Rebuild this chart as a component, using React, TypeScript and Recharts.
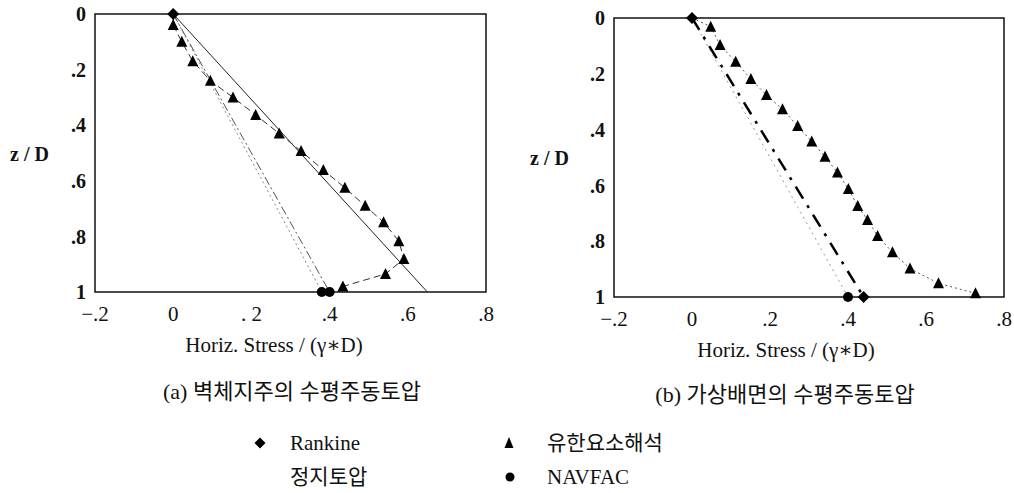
import React from "react";
import {
  LineChart,
  Line,
  XAxis,
  YAxis,
  ReferenceArea,
} from "recharts";

// panel (a) 벽체지주
const rankineA = [
  { x: 0, z: 0 },
  { x: 0.65, z: 1 },
];
const restA = [
  { x: 0, z: 0 },
  { x: 0.38, z: 1 },
];
const navfacA = [
  { x: 0, z: 0 },
  { x: 0.4, z: 1 },
];
const femA = [
  { x: 0.0, z: 0.04 },
  { x: 0.022, z: 0.1 },
  { x: 0.05, z: 0.17 },
  { x: 0.095, z: 0.24 },
  { x: 0.153, z: 0.3 },
  { x: 0.211, z: 0.363 },
  { x: 0.271, z: 0.43 },
  { x: 0.327, z: 0.493 },
  { x: 0.384, z: 0.561 },
  { x: 0.439, z: 0.625 },
  { x: 0.491, z: 0.69 },
  { x: 0.538, z: 0.749 },
  { x: 0.577, z: 0.817 },
  { x: 0.59, z: 0.881 },
  { x: 0.543, z: 0.935 },
  { x: 0.434, z: 0.98 },
];

// panel (b) 가상배면
const rankineB = [
  { x: 0, z: 0 },
  { x: 0.44, z: 1 },
];
const navfacB = [
  { x: 0, z: 0 },
  { x: 0.4, z: 1 },
];
const femB = [
  { x: 0.048, z: 0.031 },
  { x: 0.072, z: 0.097 },
  { x: 0.112, z: 0.157 },
  { x: 0.151, z: 0.219 },
  { x: 0.191, z: 0.276 },
  { x: 0.232, z: 0.327 },
  { x: 0.271, z: 0.387 },
  { x: 0.307, z: 0.443 },
  { x: 0.341, z: 0.497 },
  { x: 0.373, z: 0.554 },
  { x: 0.401, z: 0.613 },
  { x: 0.425, z: 0.674 },
  { x: 0.45, z: 0.724 },
  { x: 0.476, z: 0.781 },
  { x: 0.514, z: 0.84 },
  { x: 0.559, z: 0.898 },
  { x: 0.632, z: 0.951 },
  { x: 0.727, z: 0.987 },
];

const xTicks = [-0.2, 0, 0.2, 0.4, 0.6, 0.8];
const xLabelsA = ["\u2212.2", "0", ". 2", ".4", ".6", ".8"];
const xLabelsB = ["\u2212.2", "0", ".2", ".4", ".6", ".8"];
const zTicks = [0, 0.2, 0.4, 0.6, 0.8, 1];
const zLabels = ["0", ".2", ".4", ".6", ".8", "1"];

const SERIF = "'Liberation Serif', 'DejaVu Serif', 'Noto Sans CJK KR', serif";

function Diamond({ cx, cy, r = 6 }: { cx: number; cy: number; r?: number }) {
  return (
    <polygon
      points={`${cx},${cy - r} ${cx + r},${cy} ${cx},${cy + r} ${cx - r},${cy}`}
      fill="#000"
    />
  );
}

function Tri({ cx, cy }: { cx: number; cy: number }) {
  return (
    <polygon
      points={`${cx},${cy - 6} ${cx + 5.5},${cy + 5} ${cx - 5.5},${cy + 5}`}
      fill="#000"
    />
  );
}

// dot renderer: which points get which marker
const markerDot =
  (kind: "diamond" | "circle" | "tri", which: "first" | "last" | "both" | "all" | "skipFirst") =>
  (p: any) => {
    const { cx, cy, index, points } = p;
    const n = points ? points.length : 2;
    const show =
      which === "all" ||
      (which === "skipFirst" && index > 0) ||
      (which === "first" && index === 0) ||
      (which === "last" && index === n - 1) ||
      (which === "both" && (index === 0 || index === n - 1));
    const key = `m-${kind}-${index}`;
    if (!show || cx == null || cy == null) return <g key={key} />;
    if (kind === "diamond") return <g key={key}><Diamond cx={cx} cy={cy} /></g>;
    if (kind === "tri") return <g key={key}><Tri cx={cx} cy={cy} /></g>;
    return <circle key={key} cx={cx} cy={cy} r={5} fill="#000" />;
  };

function Panel({
  width,
  yAxisWidth,
  top,
  right,
  xAxisHeight,
  xLabels,
  children,
}: {
  width: number;
  yAxisWidth: number;
  top: number;
  right: number;
  xAxisHeight: number;
  xLabels: string[];
  children: React.ReactNode;
}) {
  return (
    <LineChart width={width} height={340} margin={{ top, right, bottom: 0, left: 0 }}>
      <XAxis
        dataKey="x"
        type="number"
        domain={[-0.2, 0.8]}
        ticks={xTicks}
        tickFormatter={(v: number, i: number) => xLabels[i] ?? String(v)}
        allowDataOverflow
        height={xAxisHeight}
        axisLine={false}
        tickLine={false}
        tickSize={0}
        tickMargin={14}
        tick={{ fill: "#111", fontSize: 21, fontFamily: SERIF }}
      />
      <YAxis
        dataKey="z"
        type="number"
        reversed
        domain={[0, 1]}
        ticks={zTicks}
        tickFormatter={(v: number, i: number) => zLabels[i] ?? String(v)}
        width={yAxisWidth}
        axisLine={false}
        tickLine={false}
        tickSize={0}
        tickMargin={9}
        tick={{ fill: "#111", fontSize: 20, fontWeight: "bold", fontFamily: SERIF }}
      />
      <ReferenceArea
        x1={-0.2}
        x2={0.8}
        y1={0}
        y2={1}
        fill="none"
        stroke="#111"
        strokeWidth={1.5}
        ifOverflow="visible"
      />
      {children}
    </LineChart>
  );
}

const txt: React.CSSProperties = {
  position: "absolute",
  lineHeight: "24px",
  whiteSpace: "nowrap",
};

export default function App() {
  return (
    <div
      style={{
        position: "absolute",
        left: 0,
        top: 0,
        width: 1014,
        height: 493,
        background: "#fff",
        fontFamily: SERIF,
        color: "#111",
      }}
    >
      <div style={{ position: "absolute", left: 0, top: 0 }}>
        <Panel width={500} yAxisWidth={95} top={14} right={14} xAxisHeight={48} xLabels={xLabelsA}>
          <Line
            data={restA}
            dataKey="z"
            stroke="#888"
            strokeWidth={1}
            strokeDasharray="2 3"
            dot={markerDot("circle", "last")}
            isAnimationActive={false}
          />
          <Line
            data={navfacA}
            dataKey="z"
            stroke="#555"
            strokeWidth={1}
            strokeDasharray="9 3 2 3"
            dot={markerDot("circle", "last")}
            isAnimationActive={false}
          />
          <Line
            data={rankineA}
            dataKey="z"
            stroke="#222"
            strokeWidth={1}
            dot={markerDot("diamond", "first")}
            isAnimationActive={false}
          />
          <Line
            data={[{ x: 0, z: 0 }, ...femA]}
            dataKey="z"
            stroke="#333"
            strokeWidth={1}
            strokeDasharray="7 4"
            dot={markerDot("tri", "skipFirst")}
            isAnimationActive={false}
          />
        </Panel>
      </div>

      <div style={{ position: "absolute", left: 520, top: 0 }}>
        <Panel width={494} yAxisWidth={94} top={18} right={10} xAxisHeight={43} xLabels={xLabelsB}>
          <Line
            data={navfacB}
            dataKey="z"
            stroke="#999"
            strokeWidth={1}
            strokeDasharray="2 4"
            dot={markerDot("circle", "last")}
            isAnimationActive={false}
          />
          <Line
            data={rankineB}
            dataKey="z"
            stroke="#000"
            strokeWidth={2.5}
            strokeDasharray="14 8 3 8"
            dot={markerDot("diamond", "both")}
            isAnimationActive={false}
          />
          <Line
            data={[{ x: 0, z: 0 }, ...femB]}
            dataKey="z"
            stroke="#555"
            strokeWidth={1}
            strokeDasharray="2 3"
            dot={markerDot("tri", "skipFirst")}
            isAnimationActive={false}
          />
        </Panel>
      </div>

      {/* axis titles */}
      <div style={{ ...txt, left: 10, top: 142, fontSize: 20, fontWeight: "bold" }}>z / D</div>
      <div style={{ ...txt, left: 530, top: 146, fontSize: 20, fontWeight: "bold" }}>z / D</div>
      <div style={{ ...txt, left: 164, width: 220, top: 333, fontSize: 21, textAlign: "center" }}>
        Horiz. Stress / (γ∗D)
      </div>
      <div style={{ ...txt, left: 676, width: 220, top: 338, fontSize: 21, textAlign: "center" }}>
        Horiz. Stress / (γ∗D)
      </div>

      {/* captions */}
      <div style={{ ...txt, left: 132, width: 320, top: 380, fontSize: 22, textAlign: "center" }}>
        (a) 벽체지주의 수평주동토압
      </div>
      <div style={{ ...txt, left: 625, width: 320, top: 383, fontSize: 22, textAlign: "center" }}>
        (b) 가상배면의 수평주동토압
      </div>

      {/* legend */}
      <svg style={{ position: "absolute", left: 0, top: 0 }} width={1014} height={493}>
        <Diamond cx={260} cy={443} r={5.5} />
        <polygon points="509,437 513.5,448 504.5,448" fill="#000" />
        <circle cx={510} cy={477} r={4.5} fill="#000" />
      </svg>
      <div style={{ ...txt, left: 290, top: 431, fontSize: 21 }}>Rankine</div>
      <div style={{ ...txt, left: 290, top: 465, fontSize: 21 }}>정지토압</div>
      <div style={{ ...txt, left: 547, top: 431, fontSize: 21 }}>유한요소해석</div>
      <div style={{ ...txt, left: 547, top: 465, fontSize: 21 }}>NAVFAC</div>
    </div>
  );
}
